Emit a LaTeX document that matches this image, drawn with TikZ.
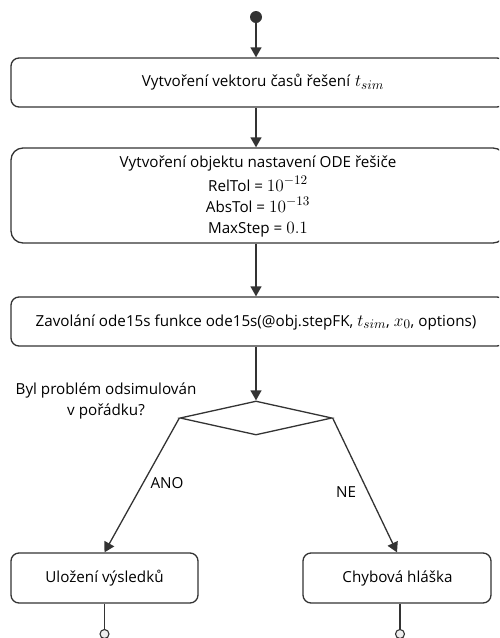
\documentclass[tikz,border=0pt]{standalone}
\usepackage{fontspec}
\setmainfont{Open Sans}
\usetikzlibrary{arrows.meta,shapes.geometric}
\definecolor{ink}{HTML}{333333}
\definecolor{endfill}{HTML}{EEEEEE}
% math set slightly larger than the surrounding text
\newcommand\mq[1]{\scalebox{1.2}{$#1$}}
\tikzset{
  x=1pt, y=-1pt,
  flowline/.style={draw=ink, line width=1.3pt},
  arr/.style={flowline, -{Triangle[length=10pt,width=11pt]}},
  stepbox/.style={draw=ink, line width=1.3pt, rounded corners=8pt, inner sep=0pt},
  txt/.style={font=\fontsize{15.2}{21}\selectfont, text=black, inner sep=0pt, align=center},
  decision/.style={diamond, draw=ink, line width=1.3pt, inner sep=0pt},
}
\begin{document}
\begin{tikzpicture}
\useasboundingbox (0,0) rectangle (499,638);
\clip (0,0) rectangle (499,638);

% start marker
\node[circle, fill=ink, minimum size=12pt, inner sep=0pt] (start) at (256,17) {};

% process boxes
\node[stepbox, minimum width=494pt, minimum height=49pt] (b1) at (258,82.5) {};
\node[txt] (t1) at (263,82) {Vytvoření vektoru časů řešení\hspace{5pt}\mq{t_{sim}}};

\node[stepbox, rounded corners=12pt, minimum width=494pt, minimum height=95pt] (b2) at (258,195.5) {};
\node[txt] (t2) at (258,196) {Vytvoření objektu nastavení ODE řešiče\\[3pt]
  RelTol = \mq{10^{-12}}\\ AbsTol = \mq{10^{-13}}\\ MaxStep = \mq{0.1}};

\node[stepbox, minimum width=494pt, minimum height=49pt] (b3) at (258,321.5) {};
\node[txt] (t3) at (256,322) {Zavolání ode15s funkce ode15s(@obj.stepFK, \mq{t_{sim}}, \mq{x_0}, options)};

% decision
\node[decision, minimum width=152pt, minimum height=34pt] (dia) at (256,418) {};
\node[txt] (q) at (106,401) {Byl problém odsimulován\\ v pořádku?};

% outcomes
\node[stepbox, minimum width=187pt, minimum height=50pt] (b4) at (104.5,578) {};
\node[txt] (t4) at (104.5,578) {Uložení výsledků};
\node[stepbox, minimum width=188pt, minimum height=50pt] (b5) at (397,578) {};
\node[txt] (t5) at (397.5,578) {Chybová hláška};

% end markers
\node[circle, draw=ink, fill=endfill, line width=1.1pt, minimum size=9pt, inner sep=0pt] (e1) at (104.5,634) {};
\node[circle, draw=ink, fill=endfill, line width=1.1pt, minimum size=9pt, inner sep=0pt] (e2) at (400,634) {};

% connectors
\draw[arr] (start) -- (start |- b1.north);
\draw[arr] (b1.south -| start) -- (b2.north -| start);
\draw[arr] (b2.south -| start) -- (b3.north -| start);
\draw[arr] (b3.south -| start) -- (dia.north);
\draw[arr] (dia.west) -- (b4.north);
\draw[arr] (dia.east) -- (b5.north);
\draw[flowline] (b4.south) -- (e1.north);
\draw[flowline] (b5.south -| e2) -- (e2.north);

% branch labels
\node[txt] (ano) at (167,483) {ANO};
\node[txt] (ne) at (346,492) {NE};
\end{tikzpicture}
\end{document}
